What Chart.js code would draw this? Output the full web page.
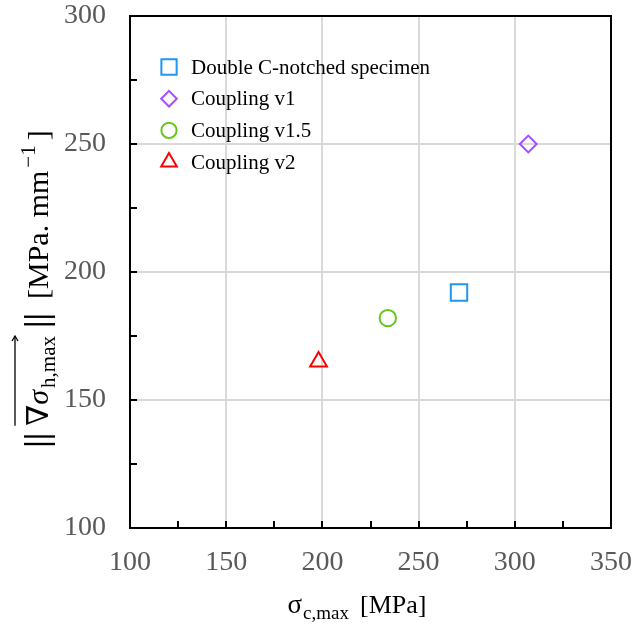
<!DOCTYPE html>
<html><head><meta charset="utf-8">
<script src="https://cdn.jsdelivr.net/npm/chart.js@4.4.1/dist/chart.umd.min.js"></script>
<style>html,body{margin:0;padding:0;background:#fff;}#wrap{width:635px;height:626px;}</style>
</head><body><div id="wrap"><canvas id="c" width="635" height="626"></canvas></div>
<script>
// ---- data ----
const seriesLabels = ['Double C-notched specimen', 'Coupling v1', 'Coupling v1.5', 'Coupling v2'];
const xValues = [271, 307, 234, 198];
const yValues = [192, 250, 182, 165];
const xTickLabels = [100, 150, 200, 250, 300, 350];
const yTickLabels = [100, 150, 200, 250, 300];

// ---- styles ----
const seriesStyles = [
  {pointStyle: 'rect', color: '#1f97f2', radius: 11.6},
  {pointStyle: 'rectRot', color: '#a64dff', radius: 8.4},
  {pointStyle: 'circle', color: '#66c71f', radius: 8.2},
  {pointStyle: 'triangle', color: '#ff0000', radius: 9.7}
];
const FONT = '"Liberation Serif", "Times New Roman", serif';

const datasets = seriesLabels.map((lab, i) => ({
  label: lab,
  data: [{x: xValues[i], y: yValues[i]}],
  pointStyle: seriesStyles[i].pointStyle,
  pointRadius: seriesStyles[i].radius,
  pointHoverRadius: seriesStyles[i].radius,
  borderColor: seriesStyles[i].color,
  backgroundColor: 'rgba(0,0,0,0)',
  pointBorderWidth: 2,
  borderWidth: 2
}));

const framePlugin = {
  id: 'frame',
  afterDraw(chart) {
    const {ctx, chartArea: ca, scales} = chart;
    ctx.save();
    ctx.strokeStyle = '#000';
    ctx.lineWidth = 2;
    const tickLen = 7;
    for (let v = scales.x.min; v <= scales.x.max; v += 25) {
      const px = Math.round(scales.x.getPixelForValue(v));
      ctx.beginPath(); ctx.moveTo(px, ca.bottom); ctx.lineTo(px, ca.bottom - tickLen); ctx.stroke();
    }
    for (let v = scales.y.min; v <= scales.y.max; v += 25) {
      const py = Math.round(scales.y.getPixelForValue(v));
      ctx.beginPath(); ctx.moveTo(ca.left, py); ctx.lineTo(ca.left + tickLen, py); ctx.stroke();
    }
    ctx.beginPath();
    ctx.rect(ca.left, ca.top, ca.right - ca.left, ca.bottom - ca.top);
    ctx.stroke();
    ctx.restore();
  }
};

const legendPlugin = {
  id: 'innerLegend',
  afterDraw(chart) {
    const {ctx, chartArea: ca} = chart;
    ctx.save();
    ctx.font = '21px ' + FONT;
    ctx.textBaseline = 'middle';
    ctx.textAlign = 'left';
    chart.data.datasets.forEach((ds, i) => {
      const cy = ca.top + 51 + i * 31.7;
      const cx = ca.left + 39;
      ctx.strokeStyle = ds.borderColor;
      ctx.fillStyle = 'rgba(0,0,0,0)';
      ctx.lineWidth = 2;
      Chart.helpers.drawPoint(ctx, {pointStyle: ds.pointStyle, radius: ds.pointRadius * 0.93, borderWidth: 2, rotation: 0}, cx, cy);
      ctx.fillStyle = '#000';
      ctx.fillText(ds.label, ca.left + 61, cy + 1);
    });
    ctx.restore();
  }
};

function drawPieces(ctx, pieces, startX, draw) {
  let x = startX; const pos = [];
  for (const p of pieces) {
    x += p.gap || 0;
    ctx.font = (p.style ? p.style + ' ' : '') + p.size + 'px ' + (p.font || FONT);
    const w = ctx.measureText(p.t).width;
    if (draw) ctx.fillText(p.t, x, p.dy || 0);
    pos.push({x, w});
    x += w;
  }
  return {end: x, pos};
}

const titlePlugin = {
  id: 'axisTitles',
  afterDraw(chart) {
    const {ctx} = chart;
    ctx.save();
    ctx.fillStyle = '#000';
    ctx.strokeStyle = '#000';
    ctx.textBaseline = 'alphabetic';
    ctx.textAlign = 'left';
    // x title
    const xp = [
      {t: 'σ', size: 27},
      {t: 'c,max', size: 19, dy: 6, gap: 1},
      {t: '[MPa]', size: 26, gap: 11}
    ];
    let m = drawPieces(ctx, xp, 0, false);
    ctx.save();
    ctx.translate(357 - m.end / 2, 613);
    drawPieces(ctx, xp, 0, true);
    ctx.restore();
    // y title
    const yp = [
      {t: '|', size: 34, style: 'bold', gap: 2},
      {t: '|', size: 34, style: 'bold', gap: 0},
      {t: '∇', size: 30, gap: 7, font: '"DejaVu Serif", serif'},
      {t: 'σ', size: 30, style: 'italic', gap: 0},
      {t: 'h,max', size: 21, dy: 7, gap: 2},
      {t: '|', size: 34, style: 'bold', gap: 8},
      {t: '|', size: 34, style: 'bold', gap: 0},
      {t: '[MPa. mm', size: 30, gap: 14},
      {t: '−1', size: 21, dy: -13, gap: 3},
      {t: ']', size: 30, gap: 5}
    ];
    m = drawPieces(ctx, yp, 0, false);
    ctx.save();
    ctx.translate(48, 290);
    ctx.rotate(-Math.PI / 2);
    ctx.translate(-m.end / 2, 0);
    const r = drawPieces(ctx, yp, 0, true);
    const ax0 = r.pos[2].x, ax1 = r.pos[4].x + r.pos[4].w;
    const ay = -33;
    ctx.lineWidth = 1.3;
    ctx.beginPath(); ctx.moveTo(ax0, ay); ctx.lineTo(ax1, ay); ctx.stroke();
    ctx.beginPath(); ctx.moveTo(ax1 - 5, ay - 3); ctx.lineTo(ax1, ay); ctx.lineTo(ax1 - 5, ay + 3); ctx.stroke();
    ctx.restore();
    ctx.restore();
  }
};

new Chart(document.getElementById('c'), {
  type: 'scatter',
  data: {datasets},
  options: {
    responsive: false,
    devicePixelRatio: 1,
    animation: false,
    layout: {padding: {left: 0, right: 24, top: 16, bottom: 0}},
    plugins: {legend: {display: false}, tooltip: {enabled: false}},
    scales: {
      x: {
        type: 'linear', min: 100, max: 350,
        afterFit: s => { s.height = 98; s.paddingLeft = 0; s.paddingRight = 0; },
        afterBuildTicks: s => { s.ticks = xTickLabels.map(v => ({value: v})); },
        ticks: {padding: 21, color: '#595959', font: {family: FONT, size: 28, lineHeight: 1.0}, maxRotation: 0, autoSkip: false},
        grid: {color: '#d9d9d9', lineWidth: 2, drawTicks: false},
        border: {display: true, color: '#000', width: 2}
      },
      y: {
        type: 'linear', min: 100, max: 300,
        afterFit: s => { s.width = 130; s.paddingTop = 0; s.paddingBottom = 0; },
        afterBuildTicks: s => { s.ticks = yTickLabels.map(v => ({value: v})); },
        ticks: {padding: 24, color: '#595959', font: {family: FONT, size: 28, lineHeight: 1.0}, autoSkip: false},
        grid: {color: '#d9d9d9', lineWidth: 2, drawTicks: false},
        border: {display: true, color: '#000', width: 2}
      }
    }
  },
  plugins: [framePlugin, legendPlugin, titlePlugin]
});
</script>
</body></html>
